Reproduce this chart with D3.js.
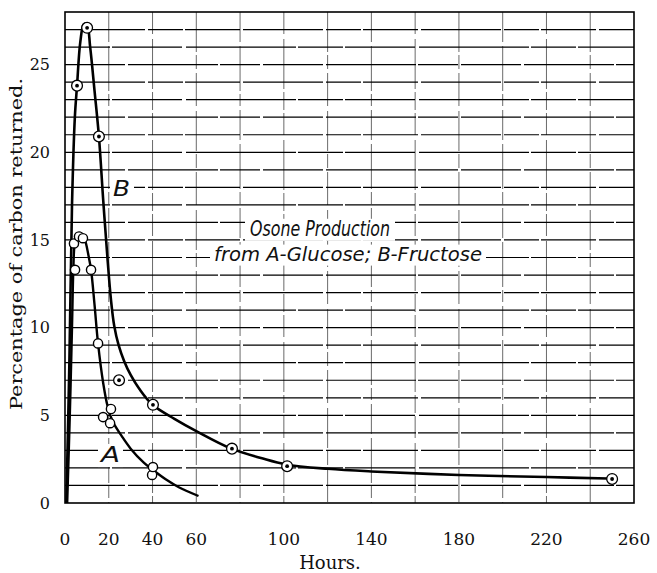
<!DOCTYPE html>
<html>
<head>
<meta charset="utf-8">
<script src="https://cdn.jsdelivr.net/npm/d3@7/dist/d3.min.js"></script>
<style>
  html, body { margin: 0; padding: 0; background: #fff; }
  svg { display: block; }
</style>
</head>
<body>
<script>
// ---- Data ----
// A: Glucose (open circles)
const glucoseHours  = [4.1, 4.6, 6.4, 8.2, 11.9, 15.1, 17.4, 20.6, 21.0, 39.8, 40.2];
const glucoseValues = [14.8, 13.3, 15.2, 15.1, 13.3, 9.1, 4.9, 4.55, 5.36, 1.6, 2.05];
// B: Fructose (dotted circles)
const fructoseHours  = [5.5, 10.1, 15.5, 24.7, 40.2, 76.3, 101.5, 250];
const fructoseValues = [23.8, 27.1, 20.9, 7.0, 5.6, 3.1, 2.1, 1.37];
// Hand-drawn smooth curves through the observations
const curveAHours  = [1, 2.2, 3.2, 3.8, 4.4, 5.3, 7, 8.6, 9.6, 10.6, 11.9, 13.5, 15.1, 17.5, 19.5, 22, 26, 30, 36, 40, 46, 52, 61];
const curveAValues = [0, 5, 10, 13.3, 14.8, 15.3, 15.4, 15.2, 14.8, 14.2, 13.3, 11.3, 9.1, 6.8, 5.5, 4.6, 3.8, 3.1, 2.3, 1.9, 1.35, 0.9, 0.4];
const curveBHours  = [0.6, 2, 3.2, 4.5, 5.5, 7, 8.6, 10, 11.5, 13.5, 15.5, 17.5, 19.5, 21, 22.5, 24.5, 27, 30, 34, 40, 50, 60, 76, 90, 101, 120, 140, 180, 220, 248];
const curveBValues = [0, 8, 17, 22, 23.8, 26.3, 27.3, 27.3, 26.0, 23.5, 20.9, 17.2, 13.8, 11.6, 10.1, 9.0, 8.1, 7.3, 6.5, 5.6, 4.8, 4.1, 3.1, 2.55, 2.2, 1.95, 1.8, 1.6, 1.48, 1.4];
// Axes
const xTicks = [0, 20, 40, 60, 100, 140, 180, 220, 260];
const yTicks = [0, 5, 10, 15, 20, 25];
const xGridHours = [20, 40, 60, 80, 100, 120, 140, 160, 180, 200, 220, 240];
const yGridValues = d3.range(1, 28);

const W = 657, H = 573;
const svg = d3.select("body").append("svg").attr("width", W).attr("height", H);

const x = d3.scaleLinear().domain([0, 260]).range([65, 634]);
const y = d3.scaleLinear().domain([0, 28]).range([503, 12]);

// ---- Grid ----
const grid = svg.append("g");
grid.selectAll("line.v").data(xGridHours).join("line")
  .attr("x1", d => x(d)).attr("x2", d => x(d))
  .attr("y1", y(28)).attr("y2", y(0))
  .attr("stroke", "#444").attr("stroke-width", 0.8)
  .attr("stroke-dasharray", (d, i) => ["30 4 45 3 12 4", "22 5 50 3 18 3", "40 3 14 4 33 5"][i % 3]);
grid.selectAll("line.h").data(yGridValues).join("line")
  .attr("x1", x(0)).attr("x2", x(260))
  .attr("y1", d => y(d)).attr("y2", d => y(d))
  .attr("stroke", "#000").attr("stroke-width", 1.2)
  .attr("stroke-dasharray", (d, i) => ["60 3 90 2 40 3", "45 2 70 4 110 2", "80 3 35 2 55 3"][i % 3]);

// frame
svg.append("rect")
  .attr("x", x(0)).attr("y", y(28))
  .attr("width", x(260) - x(0)).attr("height", y(0) - y(28))
  .attr("fill", "none").attr("stroke", "#000").attr("stroke-width", 1.6);

// ---- Annotation labels (with white backgrounds) ----
const ann = svg.append("g");
function label(txt, x0, base, size, len, padL, padR) {
  ann.append("rect").attr("x", x0 - padL).attr("y", base - size * 0.82)
    .attr("width", len + padL + padR).attr("height", size * 1.05).attr("fill", "#fff");
  ann.append("text").attr("x", x0).attr("y", base)
    .attr("font-family", "DejaVu Sans").attr("font-style", "italic")
    .attr("font-size", size).attr("fill", "#111")
    .attr("textLength", len).attr("lengthAdjust", "spacingAndGlyphs")
    .text(txt);
}
label("Osone Production", 250, 236, 21, 140, 5, 5);
label("from A-Glucose; B-Fructose", 214, 261, 20, 268, 4, 4);
label("B", 113, 196, 22, 17, 3, 4);
label("A", 101, 462, 22, 19, 3, 3);

// ---- Curves ----
const line = d3.line().x(d => x(d[0])).y(d => y(d[1])).curve(d3.curveCatmullRom.alpha(0.5));
svg.append("path").datum(d3.zip(curveAHours, curveAValues)).attr("d", line)
  .attr("fill", "none").attr("stroke", "#000").attr("stroke-width", 2.4);
svg.append("path").datum(d3.zip(curveBHours, curveBValues)).attr("d", line)
  .attr("fill", "none").attr("stroke", "#000").attr("stroke-width", 2.6);

// ---- Markers ----
const gA = svg.append("g");
gA.selectAll("circle").data(d3.zip(glucoseHours, glucoseValues)).join("circle")
  .attr("cx", d => x(d[0])).attr("cy", d => y(d[1])).attr("r", 4.6)
  .attr("fill", "#fff").attr("stroke", "#000").attr("stroke-width", 1.4);
const gB = svg.append("g");
const fb = d3.zip(fructoseHours, fructoseValues);
gB.selectAll("circle.o").data(fb).join("circle")
  .attr("cx", d => x(d[0])).attr("cy", d => y(d[1])).attr("r", 5.4)
  .attr("fill", "#fff").attr("stroke", "#000").attr("stroke-width", 1.3);
gB.selectAll("circle.i").data(fb).join("circle")
  .attr("cx", d => x(d[0])).attr("cy", d => y(d[1])).attr("r", 1.9)
  .attr("fill", "#000");

// ---- Tick labels ----
svg.append("g").selectAll("text").data(yTicks).join("text")
  .attr("x", 50).attr("y", d => y(d)).attr("dy", "0.36em")
  .attr("text-anchor", "end")
  .attr("font-family", "DejaVu Serif").attr("font-size", 16).attr("fill", "#111")
  .text(d => d);
svg.append("g").selectAll("text").data(xTicks).join("text")
  .attr("x", d => x(d)).attr("y", 545)
  .attr("text-anchor", "middle")
  .attr("font-family", "DejaVu Serif").attr("font-size", 17).attr("fill", "#111")
  .text(d => d);

// ---- Axis titles ----
svg.append("text")
  .attr("transform", "translate(22,244) rotate(-90)")
  .attr("text-anchor", "middle")
  .attr("font-family", "DejaVu Serif").attr("font-size", 16).attr("fill", "#111")
  .attr("textLength", 332).attr("lengthAdjust", "spacingAndGlyphs")
  .text("Percentage of carbon returned.");
svg.append("text")
  .attr("x", 330).attr("y", 569)
  .attr("text-anchor", "middle")
  .attr("font-family", "DejaVu Serif").attr("font-size", 18).attr("fill", "#111")
  .text("Hours.");
</script>
</body>
</html>
